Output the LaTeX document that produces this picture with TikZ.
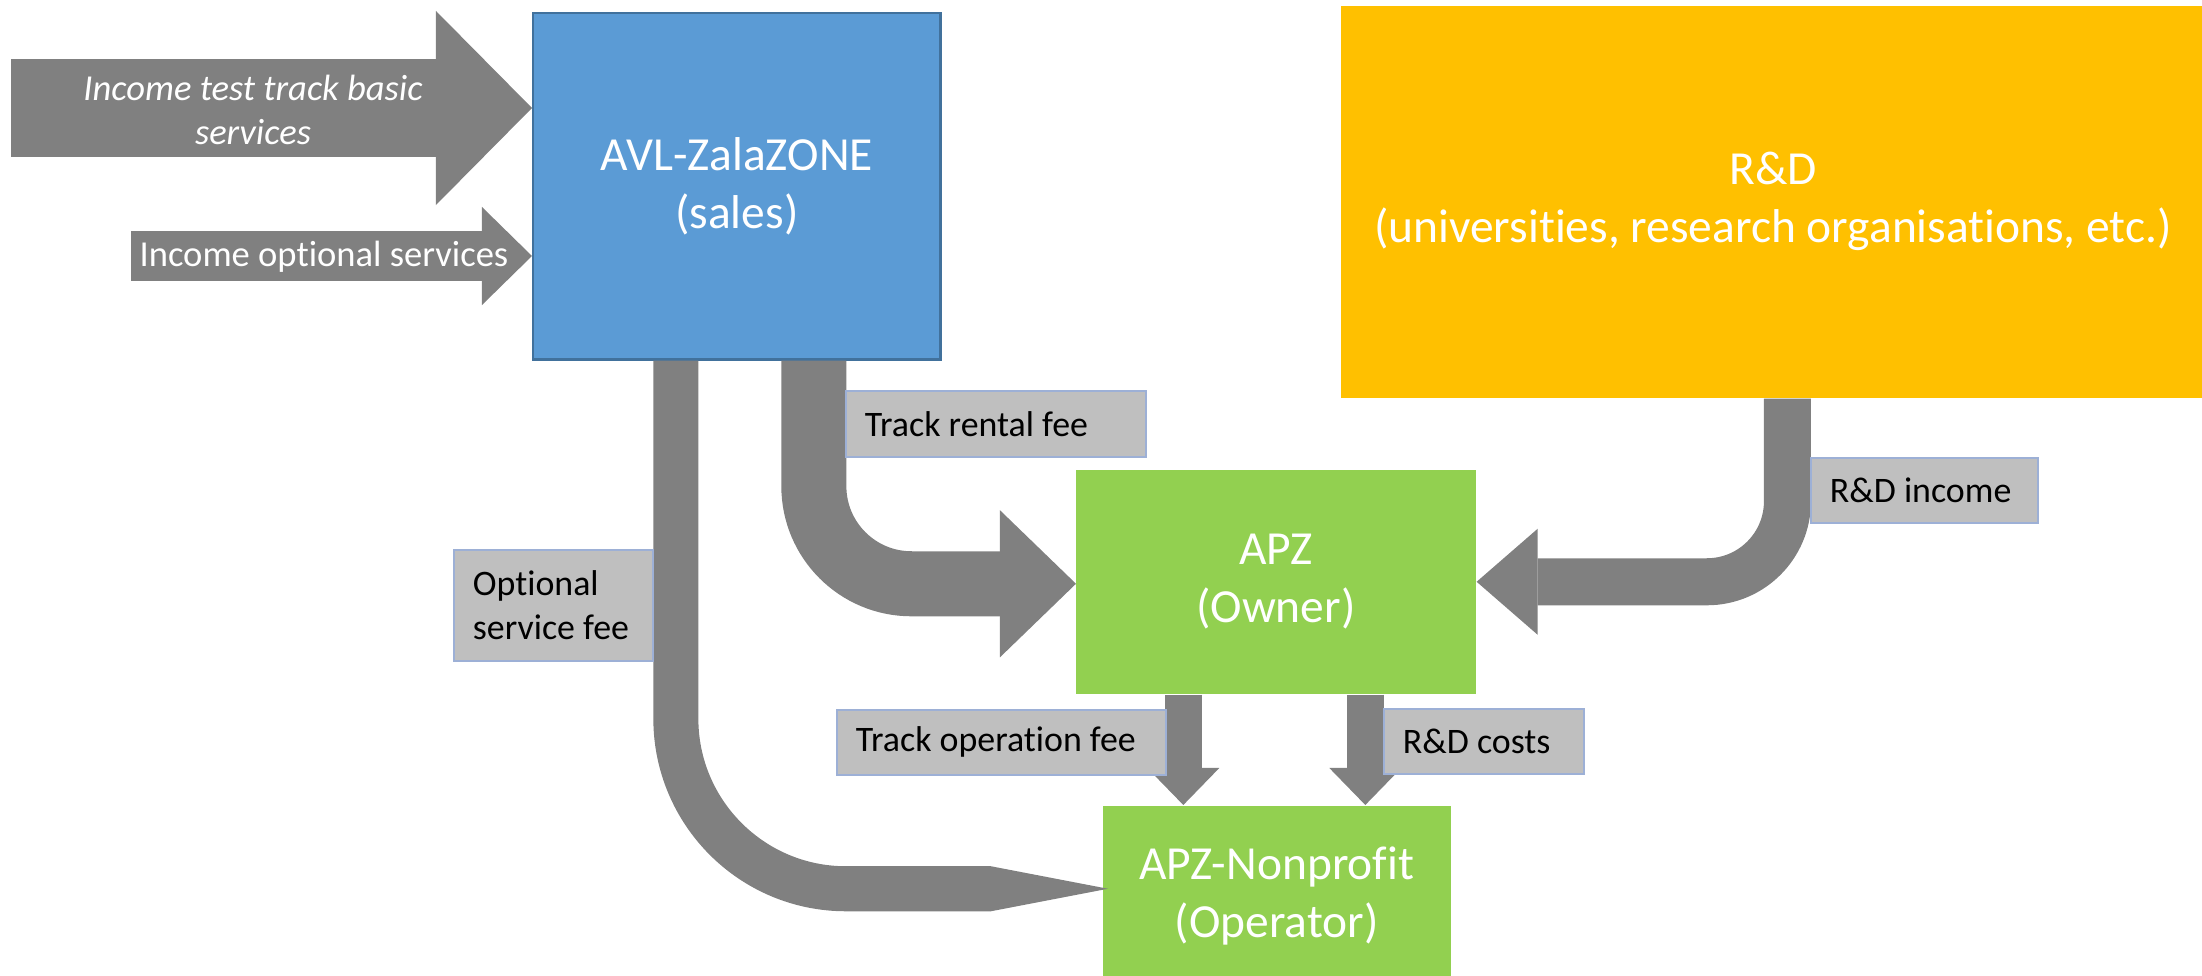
\documentclass[tikz,border=0pt]{standalone}
\usepackage{fontspec}
\setmainfont{Carlito}[Ligatures=NoCommon]
\usetikzlibrary{calc,arrows.meta}

\definecolor{salesblue}{HTML}{5B9BD5}
\definecolor{salesedge}{HTML}{41719C}
\definecolor{ownergreen}{HTML}{92D050}
\definecolor{rndyellow}{HTML}{FFC000}
\definecolor{flowgray}{HTML}{808080}
\definecolor{feegray}{HTML}{BFBFBF}
\definecolor{feeedge}{HTML}{9DB0D6}

\tikzset{
  party/.style={rectangle, anchor=north west, inner sep=0pt, align=center,
    text=white, font=\fontsize{13.5}{16.5}\selectfont},
  feebox/.style={rectangle, anchor=north west, fill=feegray, draw=feeedge,
    line width=0.5pt, inner xsep=0.19cm, inner ysep=0pt, align=flush left,
    font=\fontsize{10.2}{12.5}\selectfont},
  flow/.style={draw=flowgray, line cap=butt},
  flowtext/.style={text=white, align=center, font=\fontsize{10.4}{12.6}\selectfont}
}

\begin{document}
\begin{tikzpicture}[x=0.01cm, y=-0.01cm]
    \useasboundingbox (0,0) rectangle (2202,976);

    \node[party, fill=salesblue, draw=salesedge, line width=0.7pt,
      minimum width=4.07cm, minimum height=3.46cm] (sales) at (532,12) {AVL-ZalaZONE\\(sales)};
    \node[party, fill=ownergreen, minimum width=4.00cm, minimum height=2.24cm] (owner) at (1075,469) {APZ\\(Owner)};
    \node[party, fill=ownergreen, minimum width=3.48cm, minimum height=1.80cm] (operator) at (1102,805) {APZ-Nonprofit\\(Operator)};
    \node[party, fill=rndyellow, minimum width=8.64cm, minimum height=3.92cm] (rnd) at (1340,5)
      {R\&D\\(universities, research organisations, etc.)};

    \coordinate (basicIn) at (11,108);
    \coordinate (optIn) at (131,256);
    \draw[flow, line width=0.97cm, -{Triangle[length=0.96cm, width=1.94cm, line width=0pt]}]
      (basicIn) -- (basicIn -| sales.west);
    \draw[flow, line width=0.49cm, -{Triangle[length=0.50cm, width=0.98cm, line width=0pt]}]
      (optIn) -- (optIn -| sales.west);
    \node[flowtext, font=\fontsize{10.4}{12.6}\selectfont\itshape] (basicTxt) at (253,110)
      {Income test track basic\\services};
    \node[flowtext] (optTxt) at (324,257) {Income optional services};

    \draw[flow, line width=0.65cm, rounded corners=0.975cm,
      -{Triangle[length=0.76cm, width=1.47cm, line width=0pt]}]
      ($(sales.south)+(77,0)$) |- ($(owner.west)+(1,2)$);
    \draw[flow, line width=0.45cm, rounded corners=1.70cm,
      -{Triangle[length=1.17cm, width=0.45cm, line width=0pt]}]
      ($(sales.south)+(-61,0)$) |- ($(operator.west)+(6,-7)$);
    \draw[flow, line width=0.47cm, rounded corners=0.805cm,
      -{Triangle[length=0.61cm, width=1.06cm, line width=0pt]}]
      ($(rnd.south)+(14.5,0)$) |- (owner.east);

    \foreach \off in {-92.5,89.5} {
      \coordinate (drop) at ($(owner.south)+(\off,0)$);
      \draw[flow, line width=0.37cm, -{Triangle[length=0.37cm, width=0.72cm, line width=0pt]}]
        (drop) -- (drop |- operator.north);
    }

    \node[feebox, minimum width=3.00cm, minimum height=0.66cm, text width=2.62cm] (rental) at (845,390) {Track rental fee};
    \node[feebox, minimum width=1.99cm, minimum height=1.11cm, text width=1.61cm] (optfee) at (453,549) {Optional\\service fee};
    \node[feebox, minimum width=3.29cm, minimum height=0.65cm, text width=2.91cm] (opfee) at (836,709) {Track operation fee};
    \node[feebox, minimum width=2.00cm, minimum height=0.65cm, text width=1.62cm] (costs) at (1383,708) {R\&D costs};
    \node[feebox, minimum width=2.27cm, minimum height=0.65cm, text width=1.89cm] (income) at (1810,457) {R\&D income};
\end{tikzpicture}
\end{document}
